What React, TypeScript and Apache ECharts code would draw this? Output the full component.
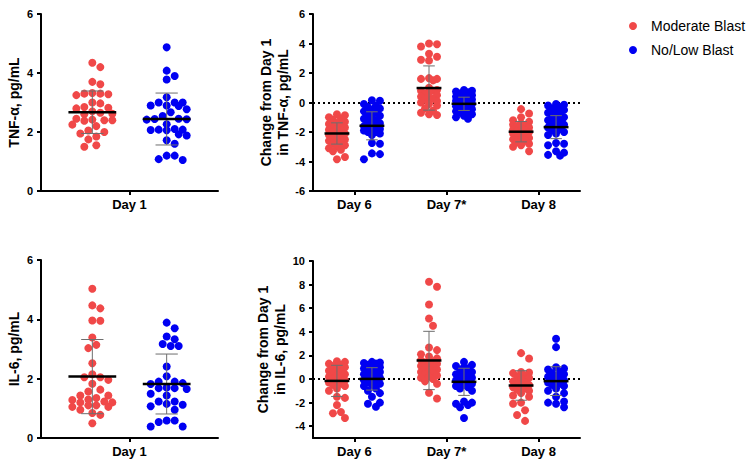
import React, { useEffect, useRef } from "react";
import * as echarts from "echarts";

// ---------- data ----------
const groupNames = ["Moderate Blast", "No/Low Blast"];
const day1Categories = ["Day 1"];
const changeCategories = ["Day 6", "Day 7*", "Day 8"];

const day1TickLabels = [0, 2, 4, 6];
const tnfChangeTickLabels = [-6, -4, -2, 0, 2, 4, 6];
const il6ChangeTickLabels = [-4, -2, 0, 2, 4, 6, 8, 10];

// TNF-α, Day 1
const tnfDay1Moderate = [4.35, 4.2, 3.7, 3.62, 3.32, 3.3, 3.28, 3.25, 3.3, 3.0, 2.97, 2.8, 2.82, 2.85, 2.7, 2.65, 2.62, 2.6, 2.45, 2.42, 2.4, 2.38, 2.4, 2.25, 2.2, 2.0, 1.95, 2.05, 1.85, 1.75, 1.55, 1.5];
const tnfDay1NoLow = [4.87, 4.08, 3.9, 3.78, 3.18, 3.0, 3.0, 3.0, 2.9, 2.9, 2.88, 2.77, 2.67, 2.54, 2.45, 2.44, 2.42, 2.43, 2.26, 2.1, 2.08, 2.06, 2.07, 2.08, 1.92, 1.88, 1.72, 1.6, 1.2, 1.2, 1.05, 1.08];
const tnfDay1Mean = [2.67, 2.44];
const tnfDay1Sd = [0.72, 0.88];

// TNF-α, change from Day 1
const tnfChangeModerateDay6 = [-0.8, -0.87, -1.0, -1.1, -1.15, -1.3, -1.4, -1.45, -1.5, -1.6, -1.7, -1.8, -1.85, -1.9, -2.0, -2.1, -2.15, -2.2, -2.3, -2.4, -2.5, -2.5, -2.6, -2.7, -2.8, -2.9, -3.0, -3.1, -3.3, -3.2, -3.7, -3.85];
const tnfChangeModerateDay7 = [4.0, 3.95, 3.8, 3.3, 3.1, 2.9, 2.85, 1.65, 1.6, 1.6, 1.5, 1.0, 0.85, 0.8, 0.8, 0.7, 0.6, 0.5, 0.4, 0.3, 0.25, 0.2, 0.1, 0.0, -0.1, -0.2, -0.4, -0.55, -0.7, -0.8, -0.85];
const tnfChangeModerateDay8 = [-0.45, -0.75, -1.0, -1.2, -1.3, -1.4, -1.5, -1.55, -1.6, -1.7, -1.8, -1.85, -1.9, -1.95, -2.0, -2.05, -2.1, -2.2, -2.3, -2.4, -2.45, -2.5, -2.6, -2.7, -2.8, -2.9, -3.0, -3.3];
const tnfChangeNoLowDay6 = [0.15, 0.12, -0.1, -0.2, -0.3, -0.4, -0.5, -0.6, -0.7, -0.8, -0.9, -1.0, -1.1, -1.2, -1.3, -1.4, -1.5, -1.6, -1.6, -1.7, -1.8, -1.9, -1.9, -2.0, -2.0, -2.1, -2.2, -2.8, -2.75, -3.45, -3.5, -3.85];
const tnfChangeNoLowDay7 = [0.85, 0.8, 0.75, 0.7, 0.6, 0.55, 0.5, 0.4, 0.35, 0.3, 0.2, 0.15, 0.1, 0.0, -0.05, -0.1, -0.2, -0.25, -0.3, -0.4, -0.45, -0.5, -0.6, -0.65, -0.7, -0.8, -0.9, -1.0, -1.1];
const tnfChangeNoLowDay8 = [-0.1, -0.15, -0.2, -0.3, -0.4, -0.5, -0.6, -0.7, -0.8, -0.9, -1.0, -1.1, -1.2, -1.3, -1.4, -1.5, -1.6, -1.7, -1.8, -1.9, -2.0, -2.1, -2.2, -2.75, -2.8, -2.9, -3.3, -3.4, -3.55, -3.6];
const tnfChangeModerateMean = [-2.1, 0.98, -1.98];
const tnfChangeModerateSd = [0.72, 1.5, 0.69];
const tnfChangeNoLowMean = [-1.58, -0.09, -1.67];
const tnfChangeNoLowSd = [0.95, 0.45, 0.78];

// IL-6, Day 1
const il6Day1Moderate = [5.03, 4.47, 4.37, 3.95, 3.96, 3.39, 3.14, 3.03, 2.52, 2.05, 1.96, 1.83, 2.05, 2.15, 1.63, 1.43, 1.57, 1.43, 1.35, 1.23, 1.2, 1.1, 1.05, 1.05, 1.1, 1.28, 1.3, 1.2, 0.95, 0.84, 0.78, 0.5];
const il6Day1NoLow = [3.89, 3.7, 3.33, 3.42, 3.1, 3.1, 3.17, 2.41, 1.9, 1.85, 1.82, 1.9, 2.08, 1.68, 1.7, 1.65, 1.68, 1.43, 1.49, 1.23, 1.15, 1.07, 0.95, 1.12, 1.23, 0.59, 0.54, 0.39, 0.39, 0.59];
const il6Day1Mean = [2.07, 1.82];
const il6Day1Sd = [1.25, 1.01];

// IL-6, change from Day 1
const il6ChangeModerateDay6 = [1.5, 1.45, 1.3, 1.2, 1.1, 1.0, 0.9, 0.7, 0.6, 0.5, 0.4, 0.3, 0.2, 0.1, 0.0, -0.1, -0.2, -0.3, -0.4, -0.5, -0.6, -0.8, -1.0, -1.5, -1.6, -2.2, -2.8, -2.9, -3.3];
const il6ChangeModerateDay7 = [8.24, 7.82, 6.32, 5.13, 4.51, 2.67, 2.45, 2.1, 1.9, 1.75, 1.6, 1.5, 1.4, 1.3, 1.2, 1.1, 1.0, 0.9, 0.8, 0.7, 0.6, 0.5, 0.4, 0.3, 0.2, 0.1, 0.0, -0.2, -0.4, -1.17, -1.65];
const il6ChangeModerateDay8 = [2.19, 1.74, 0.6, 0.55, 0.5, 0.3, 0.2, 0.1, 0.0, -0.2, -0.3, -0.4, -0.5, -0.6, -0.7, -0.8, -0.9, -1.0, -1.2, -1.4, -1.5, -2.1, -2.0, -2.65, -3.05, -3.55];
const il6ChangeNoLowDay6 = [1.45, 1.4, 1.35, 1.3, 1.2, 1.1, 1.0, 0.9, 0.8, 0.7, 0.6, 0.5, 0.4, 0.3, 0.2, 0.1, 0.0, -0.1, -0.2, -0.3, -0.4, -0.5, -0.6, -0.8, -1.0, -1.2, -1.5, -2.0, -2.1, -2.35];
const il6ChangeNoLowDay7 = [1.45, 1.2, 1.1, 1.0, 0.9, 0.8, 0.6, 0.5, 0.4, 0.3, 0.2, 0.1, 0.0, -0.1, -0.2, -0.3, -0.4, -0.5, -0.6, -0.7, -0.8, -1.0, -1.9, -2.0, -2.1, -2.2, -2.4, -3.3];
const il6ChangeNoLowDay8 = [3.41, 2.7, 1.0, 0.9, 0.8, 0.6, 0.5, 0.4, 0.3, 0.2, 0.1, 0.0, -0.1, -0.2, -0.3, -0.4, -0.5, -0.6, -0.8, -1.0, -1.2, -1.5, -1.9, -2.0, -2.1, -2.4];
const il6ChangeModerateMean = [-0.16, 1.57, -0.55];
const il6ChangeModerateSd = [1.32, 2.47, 1.25];
const il6ChangeNoLowMean = [0.01, -0.24, -0.18];
const il6ChangeNoLowSd = [0.95, 1.15, 1.22];

// ---------- styling / layout ----------
const FONT = "'Liberation Sans', Arial, Helvetica, sans-serif";
const RED = "#F04848";
const BLUE = "#0000F2";
const DOT = 8;

type PanelSpec = {
  grid: { left: number; top: number; width: number; height: number };
  cats: string[];
  xMin: number;
  xMax: number;
  yMin: number;
  yMax: number;
  yTicks: number[];
  yName: string;
  nameGap: number;
  groupOffset: number;
  moderate: number[][];
  noLow: number[][];
  modMean: number[];
  modSd: number[];
  nlMean: number[];
  nlSd: number[];
  zeroLine: boolean;
};

// beeswarm layout in pixel space, returns horizontal offsets in px
function swarm(values: number[], pxPerY: number, diam: number, maxHalf: number): number[] {
  const order = values.map((_, i) => i).sort((a, b) => values[b] - values[a]);
  const placed: { x: number; y: number }[] = [];
  const out: number[] = new Array(values.length).fill(0);
  const step = diam / 2;
  const n = Math.floor(maxHalf / step);
  const cands: number[] = [0];
  for (let k = 1; k <= n; k++) cands.push(k * step, -k * step);
  for (const i of order) {
    const y = values[i] * pxPerY;
    let best = 0;
    let bestD = -1;
    let chosen: number | null = null;
    for (const cx of cands) {
      let dmin = Infinity;
      for (const p of placed) {
        const d = Math.hypot(p.x - cx, p.y - y);
        if (d < dmin) dmin = d;
      }
      if (dmin >= diam * 0.98) {
        chosen = cx;
        break;
      }
      if (dmin > bestD) {
        bestD = dmin;
        best = cx;
      }
    }
    const x = chosen === null ? best : chosen;
    placed.push({ x, y });
    out[i] = x;
  }
  return out;
}

function buildOption() {
  const panels: PanelSpec[] = [
    {
      grid: { left: 41, top: 14, width: 177, height: 177 },
      cats: day1Categories, xMin: -0.5, xMax: 0.5, yMin: 0, yMax: 6, yTicks: day1TickLabels,
      yName: "TNF-α, pg/mL", nameGap: 19, groupOffset: 0.21,
      moderate: [tnfDay1Moderate], noLow: [tnfDay1NoLow],
      modMean: [tnfDay1Mean[0]], modSd: [tnfDay1Sd[0]], nlMean: [tnfDay1Mean[1]], nlSd: [tnfDay1Sd[1]],
      zeroLine: false,
    },
    {
      grid: { left: 313, top: 14, width: 267, height: 177 },
      cats: changeCategories, xMin: -0.45, xMax: 2.45, yMin: -6, yMax: 6, yTicks: tnfChangeTickLabels,
      yName: "Change from Day 1\nin TNF-α, pg/mL", nameGap: 22, groupOffset: 0.19,
      moderate: [tnfChangeModerateDay6, tnfChangeModerateDay7, tnfChangeModerateDay8],
      noLow: [tnfChangeNoLowDay6, tnfChangeNoLowDay7, tnfChangeNoLowDay8],
      modMean: tnfChangeModerateMean, modSd: tnfChangeModerateSd, nlMean: tnfChangeNoLowMean, nlSd: tnfChangeNoLowSd,
      zeroLine: true,
    },
    {
      grid: { left: 41, top: 260, width: 177, height: 178 },
      cats: day1Categories, xMin: -0.5, xMax: 0.5, yMin: 0, yMax: 6, yTicks: day1TickLabels,
      yName: "IL-6, pg/mL", nameGap: 19, groupOffset: 0.21,
      moderate: [il6Day1Moderate], noLow: [il6Day1NoLow],
      modMean: [il6Day1Mean[0]], modSd: [il6Day1Sd[0]], nlMean: [il6Day1Mean[1]], nlSd: [il6Day1Sd[1]],
      zeroLine: false,
    },
    {
      grid: { left: 313, top: 261, width: 267, height: 177 },
      cats: changeCategories, xMin: -0.45, xMax: 2.45, yMin: -5, yMax: 10, yTicks: il6ChangeTickLabels,
      yName: "Change from Day 1\nin IL-6, pg/mL", nameGap: 22, groupOffset: 0.19,
      moderate: [il6ChangeModerateDay6, il6ChangeModerateDay7, il6ChangeModerateDay8],
      noLow: [il6ChangeNoLowDay6, il6ChangeNoLowDay7, il6ChangeNoLowDay8],
      modMean: il6ChangeModerateMean, modSd: il6ChangeModerateSd, nlMean: il6ChangeNoLowMean, nlSd: il6ChangeNoLowSd,
      zeroLine: true,
    },
  ];

  const grid: any[] = [];
  const xAxis: any[] = [];
  const yAxis: any[] = [];
  const series: any[] = [];

  panels.forEach((p, gi) => {
    grid.push({ ...p.grid, containLabel: false });
    const catIdx = p.cats.map((_, i) => i);
    xAxis.push({
      type: "value",
      gridIndex: gi,
      min: p.xMin,
      max: p.xMax,
      splitLine: { show: false },
      axisLine: { onZero: false, lineStyle: { color: "#000", width: 2 } },
      axisTick: { customValues: catIdx, length: 4, lineStyle: { color: "#000", width: 2 } },
      axisLabel: {
        customValues: catIdx,
        formatter: (v: number) => p.cats[Math.round(v)] ?? "",
        color: "#000",
        fontSize: 13,
        fontWeight: "bold",
        fontFamily: FONT,
        margin: 7,
      },
    });
    yAxis.push({
      type: "value",
      gridIndex: gi,
      min: p.yMin,
      max: p.yMax,
      splitLine: { show: false },
      axisLine: { onZero: false, lineStyle: { color: "#000", width: 2 } },
      axisTick: { customValues: p.yTicks, length: 4, lineStyle: { color: "#000", width: 2 } },
      axisLabel: {
        customValues: p.yTicks,
        color: "#000",
        fontSize: 11,
        fontWeight: "bold",
        fontFamily: FONT,
        margin: 8,
      },
      name: p.yName,
      nameLocation: "middle",
      nameRotate: 90,
      nameGap: p.nameGap,
      nameTextStyle: { color: "#000", fontSize: 14, fontWeight: "bold", fontFamily: FONT, lineHeight: 17 },
    });

    const pxPerX = p.grid.width / (p.xMax - p.xMin);
    const pxPerY = p.grid.height / (p.yMax - p.yMin);
    const maxHalf = 0.115 * pxPerX;

    const makePoints = (sets: number[][], sign: number) => {
      const pts: number[][] = [];
      sets.forEach((vals, ci) => {
        const offs = swarm(vals, pxPerY, DOT, maxHalf);
        vals.forEach((v, k) => pts.push([ci + sign * p.groupOffset + offs[k] / pxPerX, v]));
      });
      return pts;
    };

    series.push({
      name: groupNames[0],
      type: "scatter",
      xAxisIndex: gi,
      yAxisIndex: gi,
      symbol: "circle",
      symbolSize: DOT,
      itemStyle: { color: RED, opacity: 1 },
      data: makePoints(p.moderate, -1),
      z: 3,
      markLine: p.zeroLine
        ? {
            silent: true,
            symbol: "none",
            label: { show: false },
            lineStyle: { color: "#000", type: [2, 3], width: 2 },
            data: [{ yAxis: 0 }],
            z: 1,
          }
        : undefined,
    });
    series.push({
      name: groupNames[1],
      type: "scatter",
      xAxisIndex: gi,
      yAxisIndex: gi,
      symbol: "circle",
      symbolSize: DOT,
      itemStyle: { color: BLUE, opacity: 1 },
      data: makePoints(p.noLow, 1),
      z: 3,
    });

    const stats: number[][] = [];
    p.cats.forEach((_, ci) => {
      stats.push([ci - p.groupOffset, p.modMean[ci], p.modSd[ci]]);
      stats.push([ci + p.groupOffset, p.nlMean[ci], p.nlSd[ci]]);
    });
    series.push({
      name: "stats" + gi,
      type: "custom",
      xAxisIndex: gi,
      yAxisIndex: gi,
      z: 10,
      silent: true,
      data: stats,
      renderItem: (params: any, api: any) => {
        const x = api.value(0);
        const m = api.value(1);
        const s = api.value(2);
        const c = api.coord([x, m]);
        const top = api.coord([x, m + s]);
        const bot = api.coord([x, m - s]);
        const unit = api.size([1, 0])[0];
        const hw = unit * 0.135;
        const cw = unit * 0.063;
        const gray = { stroke: "#6e6e6e", lineWidth: 1 };
        return {
          type: "group",
          children: [
            { type: "line", shape: { x1: c[0], y1: top[1], x2: c[0], y2: bot[1] }, style: gray },
            { type: "line", shape: { x1: c[0] - cw, y1: top[1], x2: c[0] + cw, y2: top[1] }, style: gray },
            { type: "line", shape: { x1: c[0] - cw, y1: bot[1], x2: c[0] + cw, y2: bot[1] }, style: gray },
            {
              type: "line",
              shape: { x1: c[0] - hw, y1: c[1], x2: c[0] + hw, y2: c[1] },
              style: { stroke: "#000", lineWidth: 2.5 },
            },
          ],
        };
      },
    });
  });

  return {
    animation: false,
    backgroundColor: "#fff",
    legend: {
      data: groupNames,
      orient: "vertical",
      left: 624,
      top: 14,
      itemWidth: 8,
      itemHeight: 8,
      itemGap: 10,
      icon: "circle",
      selectedMode: false,
      textStyle: { color: "#000", fontSize: 14, fontFamily: FONT, padding: [0, 0, 0, 9] },
    },
    grid,
    xAxis,
    yAxis,
    series,
  };
}

export default function App() {
  const ref = useRef<HTMLDivElement>(null);
  useEffect(() => {
    if (!ref.current) return;
    const chart = echarts.init(ref.current, undefined, { renderer: "svg" });
    chart.setOption(buildOption() as any);
    return () => chart.dispose();
  }, []);
  return (
    <div
      ref={ref}
      style={{ position: "fixed", left: 0, top: 0, width: 754, height: 468, background: "#fff" }}
    />
  );
}
